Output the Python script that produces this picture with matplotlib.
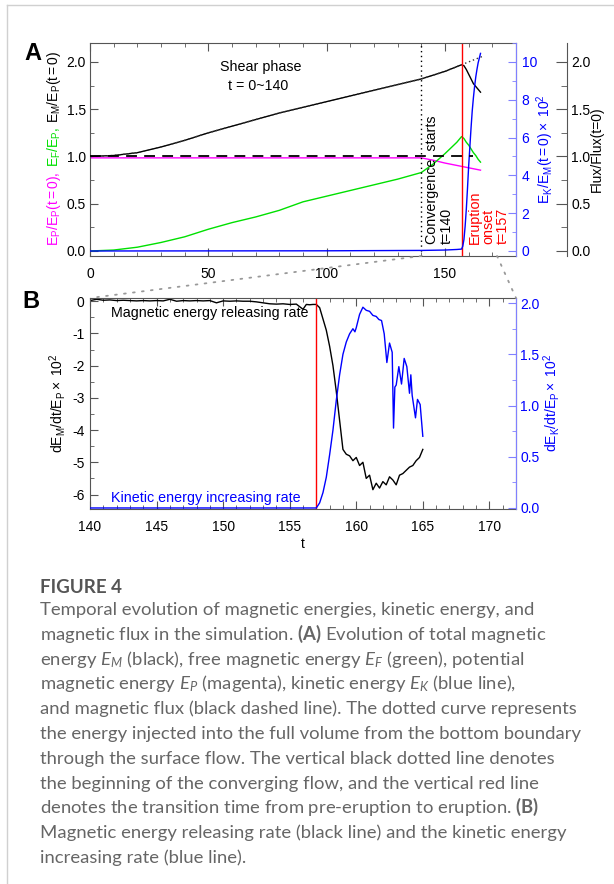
import matplotlib
matplotlib.use('Agg')
import matplotlib.pyplot as plt
from matplotlib.ticker import MultipleLocator, FormatStrFormatter
from matplotlib.patches import ConnectionPatch
from matplotlib.lines import Line2D

plt.rcParams['font.family'] = ['Liberation Sans', 'DejaVu Sans']
plt.rcParams['axes.unicode_minus'] = False
plt.rcParams['mathtext.fontset'] = 'custom'
plt.rcParams['mathtext.rm'] = 'Lato'
plt.rcParams['mathtext.it'] = 'Lato:italic'
plt.rcParams['mathtext.bf'] = 'Lato:bold'

# ---- panel A data (normalised energies, flux) ----
t_a = [0, 10, 20, 30, 40, 50, 60, 70, 80, 90, 100, 110, 120, 130, 140,
       145, 150, 155, 157, 158, 159, 160, 161, 162, 163, 164, 165]
e_m = [1.00, 1.01, 1.04, 1.10, 1.17, 1.25, 1.32, 1.39, 1.46, 1.52, 1.58, 1.64, 1.70, 1.76, 1.82,
       1.86, 1.90, 1.95, 1.97, 1.96, 1.92, 1.87, 1.82, 1.77, 1.74, 1.71, 1.68]
e_f = [0.00, 0.01, 0.04, 0.09, 0.15, 0.23, 0.30, 0.36, 0.43, 0.52, 0.58, 0.64, 0.70, 0.76, 0.83,
       0.92, 1.03, 1.15, 1.21, 1.19, 1.15, 1.12, 1.08, 1.04, 1.01, 0.97, 0.94]
e_p = [0.985, 0.985, 0.985, 0.985, 0.985, 0.985, 0.985, 0.985, 0.985, 0.985, 0.985, 0.985, 0.985, 0.985, 0.985,
       0.96, 0.93, 0.905, 0.895, 0.89, 0.885, 0.88, 0.875, 0.87, 0.865, 0.86, 0.855]
t_inj = [0, 10, 20, 30, 40, 50, 60, 70, 80, 90, 100, 110, 120, 130, 140,
         145, 150, 155, 157, 160, 163, 166]
e_inj = [1.00, 1.01, 1.04, 1.10, 1.17, 1.25, 1.32, 1.39, 1.46, 1.52, 1.58, 1.64, 1.70, 1.76, 1.82,
         1.86, 1.90, 1.95, 1.97, 2.00, 2.03, 2.06]
t_flux = [0, 50, 100, 150, 162]
flux = [1.01, 1.01, 1.01, 1.01, 1.01]
t_ek = [0, 100, 140, 150, 155, 157, 157.5, 158, 158.5, 159, 159.5, 160, 160.5, 161, 161.5,
        162, 162.5, 163, 163.5, 164, 164.5, 165]
e_k = [0.0, 0.01, 0.03, 0.05, 0.08, 0.1, 0.25, 0.6, 1.3, 2.2, 3.3, 4.5, 5.5, 6.5, 7.4,
       8.1, 8.7, 9.2, 9.6, 9.95, 10.2, 10.45]

# ---- panel B data (rates x 10^2) ----
t_bm = [140, 140.5, 141, 141.5, 142, 142.5, 143, 143.5, 144, 144.5, 145, 145.5, 146, 146.5,
        147, 147.5, 148, 148.5, 149, 149.5, 150, 150.5, 151, 151.5, 152, 152.5, 153, 153.5,
        154, 154.5, 155, 155.5, 156, 156.25, 156.5, 156.75, 157, 157.25, 157.5, 157.75,
        158, 158.25, 158.5, 158.75, 159, 159.25, 159.5, 159.75, 160, 160.25, 160.5, 160.75,
        161, 161.25, 161.5, 161.75, 162, 162.25, 162.5, 162.75, 163, 163.25, 163.5, 163.75,
        164, 164.25, 164.5, 164.75, 165]
de_m = [0.02, 0.06, 0.03, 0.04, 0.02, 0.03, 0.02, 0.01, 0.02, 0.01, 0.02, 0.01, 0.06, 0.0,
        0.02, 0.01, 0.02, 0.01, 0.02, -0.05, 0.01, 0.0, 0.01, 0.0, 0.0, -0.02, -0.05, -0.08,
        -0.09, -0.08, -0.1, -0.09, -0.25, -0.1, -0.11, -0.1, -0.1, -0.2, -0.55, -0.9,
        -1.4, -2.0, -2.8, -3.7, -4.6, -4.75, -4.8, -4.95, -4.85, -5.1, -5.0, -5.5,
        -5.4, -5.85, -5.65, -5.8, -5.6, -5.7, -5.45, -5.55, -5.7, -5.4, -5.35, -5.25,
        -5.15, -5.1, -4.95, -4.85, -4.6]
t_bk = [140, 157, 157.25, 157.5, 157.75, 158, 158.25, 158.5, 158.75, 159, 159.25, 159.5,
        159.75, 159.9, 160, 160.25, 160.5, 160.75, 161, 161.25, 161.5, 161.7, 161.9, 162.1,
        162.3, 162.5, 162.7, 162.8, 162.9, 163.0, 163.2, 163.4, 163.6, 163.8, 164.0, 164.1,
        164.2, 164.45, 164.6, 164.8, 165.0]
de_k = [0.0, 0.0, 0.05, 0.15, 0.3, 0.52, 0.76, 1.05, 1.3, 1.5, 1.62, 1.7,
        1.75, 1.72, 1.76, 1.89, 1.96, 1.93, 1.92, 1.88, 1.87, 1.84, 1.83, 1.70,
        1.42, 1.61, 1.52, 0.78, 1.18, 1.20, 1.38, 1.21, 1.46, 1.38, 1.12, 1.30,
        1.10, 0.88, 1.06, 1.01, 0.70]

caption = [
    "Temporal evolution of magnetic energies, kinetic energy, and",
    r"magnetic flux in the simulation. $\mathbf{(A)}$ Evolution of total magnetic",
    r"energy $E_M$ (black), free magnetic energy $E_F$ (green), potential",
    r"magnetic energy $E_P$ (magenta), kinetic energy $E_K$ (blue line),",
    "and magnetic flux (black dashed line). The dotted curve represents",
    "the energy injected into the full volume from the bottom boundary",
    "through the surface flow. The vertical black dotted line denotes",
    "the beginning of the converging flow, and the vertical red line",
    r"denotes the transition time from pre-eruption to eruption. $\mathbf{(B)}$",
    "Magnetic energy releasing rate (black line) and the kinetic energy",
    "increasing rate (blue line).",
]

W, H = 614, 884
fig = plt.figure(figsize=(W / 100, H / 100), dpi=100)


def fx(px):
    return px / W


def fy(py):
    return 1 - py / H


BLUE = '#0000ff'
LBLUE = '#8080ff'
MAG = '#ff00ff'
GREEN = '#00e000'
SPINE = '#555555'

axA = fig.add_axes([fx(90), fy(256), (516 - 90) / W, (256 - 43) / H])
axB = fig.add_axes([fx(90), fy(509), (516 - 90) / W, (509 - 298) / H])

# ---------------- panel A ----------------
axA.plot(t_a, e_p, color=MAG, lw=1)
axA.plot(t_a, e_f, color=GREEN, lw=1)
axA.plot(t_a, e_m, color='k', lw=1)
axA.plot(t_inj, e_inj, color='#333333', lw=1, ls=(0, (1, 2)))
axA.axvline(140, color='k', lw=1, ls=(0, (1, 2.5)))
axA.axvline(157, color='red', lw=1)
axA.set_xlim(0, 180)
axA.set_ylim(-0.053, 2.2)
axA.xaxis.set_major_locator(MultipleLocator(50))
axA.xaxis.set_minor_locator(MultipleLocator(10))
axA.yaxis.set_major_locator(MultipleLocator(0.5))
axA.yaxis.set_minor_locator(MultipleLocator(0.25))
axA.yaxis.set_major_formatter(FormatStrFormatter('%.1f'))
axA.tick_params(which='both', direction='in', top=True, right=False, color=SPINE, labelsize=10)
axA.tick_params(which='major', length=6)
axA.tick_params(which='minor', length=3)
axA.tick_params(axis='x', pad=8)
axA.tick_params(axis='y', pad=3)
for s in axA.spines.values():
    s.set_color(SPINE)
    s.set_linewidth(0.8)

axK = axA.twinx()
axK.plot(t_ek, e_k, color=BLUE, lw=1)
axK.set_ylim(-0.265, 11.0)
axK.yaxis.set_major_locator(MultipleLocator(2))
axK.yaxis.set_minor_locator(MultipleLocator(1))
axK.tick_params(axis='y', which='both', direction='in', color=LBLUE, labelcolor=BLUE,
                labelsize=10, pad=4)
axK.tick_params(which='major', length=6)
axK.tick_params(which='minor', length=3)
for k, s in axK.spines.items():
    s.set_visible(k == 'right')
axK.spines['right'].set_color(LBLUE)
axK.spines['right'].set_linewidth(0.8)

axF = axA.twinx()
axF.plot(t_flux, flux, color='k', lw=1.3, ls=(0, (6, 4)))
axF.set_ylim(-0.053, 2.2)
axF.spines['right'].set_position(('axes', (567 - 90) / 426))
for k, s in axF.spines.items():
    s.set_visible(k == 'right')
axF.spines['right'].set_color(SPINE)
axF.spines['right'].set_linewidth(0.8)
axF.yaxis.set_major_locator(MultipleLocator(0.5))
axF.yaxis.set_minor_locator(MultipleLocator(0.25))
axF.yaxis.set_major_formatter(FormatStrFormatter('%.1f'))
axF.tick_params(axis='y', which='both', direction='in', color=SPINE, labelsize=10, pad=3)
axF.tick_params(which='major', length=8)
axF.tick_params(which='minor', length=4)

axA.text(72, 1.95, 'Shear phase', fontsize=10.3, ha='center', va='center')
axA.text(71, 1.745, 't = 0~140', fontsize=10.3, ha='center', va='center')
axA.text(144.5, 0.075, 'Convergence  starts', rotation=90, fontsize=10.3, ha='center', va='bottom')
axA.text(150.8, 0.075, 't=140', rotation=90, fontsize=10.3, ha='center', va='bottom')
axA.text(162.7, 0.075, 'Eruption', rotation=90, fontsize=10.3, color='red', ha='center', va='bottom')
axA.text(168.2, 0.075, 'onset', rotation=90, fontsize=10.3, color='red', ha='center', va='bottom')
axA.text(174.5, 0.075, 't=157', rotation=90, fontsize=10.3, color='red', ha='center', va='bottom')

# ---------------- panel B ----------------
axB.plot(t_bm, de_m, color='k', lw=1)
axB.axvline(157, color='red', lw=1)
axB.set_xlim(140, 172)
axB.set_ylim(-6.45, 0.1)
axB.xaxis.set_major_locator(MultipleLocator(5))
axB.xaxis.set_minor_locator(MultipleLocator(1))
axB.yaxis.set_major_locator(MultipleLocator(1))
axB.yaxis.set_minor_locator(MultipleLocator(0.5))
axB.tick_params(which='both', direction='in', top=True, right=False, color=SPINE, labelsize=10)
axB.tick_params(which='major', length=6)
axB.tick_params(which='minor', length=3)
axB.tick_params(axis='x', pad=8)
axB.tick_params(axis='y', pad=4)
for s in axB.spines.values():
    s.set_color(SPINE)
    s.set_linewidth(0.8)
axB.set_xlabel('t', fontsize=10, labelpad=2)

axBk = axB.twinx()
axBk.plot(t_bk, de_k, color=BLUE, lw=1)
axBk.set_ylim(-0.01, 2.05)
axBk.yaxis.set_major_locator(MultipleLocator(0.5))
axBk.yaxis.set_minor_locator(MultipleLocator(0.25))
axBk.yaxis.set_major_formatter(FormatStrFormatter('%.1f'))
axBk.tick_params(axis='y', which='both', direction='in', color=LBLUE, labelcolor=BLUE,
                 labelsize=10, pad=3)
axBk.tick_params(which='major', length=6)
axBk.tick_params(which='minor', length=3)
for k, s in axBk.spines.items():
    s.set_visible(k == 'right')
axBk.spines['right'].set_color(LBLUE)
axBk.spines['right'].set_linewidth(0.8)

axB.text(141.6, -0.37, 'Magnetic energy releasing rate', fontsize=10.3, ha='left', va='center')
axB.text(141.6, -6.1, 'Kinetic energy increasing rate', fontsize=10.3, color=BLUE,
         ha='left', va='center')

# zoom connectors from A to B
for xa in (140, 172):
    con = ConnectionPatch(xyA=(xa, -0.053), coordsA=axA.transData,
                          xyB=(xa, 0.1), coordsB=axB.transData,
                          color='#999999', lw=1.3, ls=(0, (1, 4)))
    fig.add_artist(con)

# ---------------- axis labels ----------------
renderer = fig.canvas.get_renderer()


def stacked_label(parts, x_px, yc_px, gap=4, size=10):
    texts = [fig.text(0, 0, s, rotation=90, color=c, fontsize=size, ha='center', va='bottom')
             for s, c in parts]
    hs = [t.get_window_extent(renderer).height for t in texts]
    y = yc_px + (sum(hs) + gap * (len(hs) - 1)) / 2
    for t, h in zip(texts, hs):
        t.set_position((fx(x_px), fy(y)))
        y -= h + gap


stacked_label([(r'$\mathregular{E_P/E_P(t=0),}$', MAG),
               (r'$\mathregular{E_F/E_P,}$', GREEN),
               (r'$\mathregular{E_M/E_P(t=0)}$', 'k')], 54, 148)
fig.text(fx(545), fy(149), r'$\mathregular{E_K/E_M(t=0)\times\ 10^2}$', rotation=90,
         color=BLUE, fontsize=10, ha='center', va='center')
fig.text(fx(597), fy(149), 'Flux/Flux(t=0)', rotation=90, fontsize=10, ha='center', va='center')
fig.text(fx(58), fy(403), r'$\mathregular{dE_M/dt/E_P\times\ 10^2}$', rotation=90,
         fontsize=10, ha='center', va='center')
fig.text(fx(551), fy(403), r'$\mathregular{dE_K/dt/E_P\times\ 10^2}$', rotation=90,
         color=BLUE, fontsize=10, ha='center', va='center')

fig.text(fx(33), fy(53), 'A', fontsize=17, fontweight='bold', ha='center', va='center')
fig.text(fx(31), fy(301), 'B', fontsize=17, fontweight='bold', ha='center', va='center')

# ---------------- caption ----------------
fig.text(fx(40), fy(593), 'FIGURE 4', fontfamily='Lato', fontweight='bold', fontsize=13.5,
         color='#555555', va='baseline')
for i, line in enumerate(caption):
    fig.text(fx(40), fy(615 + i * 24.8), line, fontfamily='Lato', fontweight='normal',
             fontsize=13.3, color='#666666', va='baseline')

# page frame
fig.add_artist(Line2D([fx(7), fx(7)], [fy(5), 0], color='#d0d0d0', lw=1, transform=fig.transFigure))
fig.add_artist(Line2D([fx(7), 1], [fy(5), fy(5)], color='#d0d0d0', lw=1, transform=fig.transFigure))

fig.savefig('out.png', dpi=100)
